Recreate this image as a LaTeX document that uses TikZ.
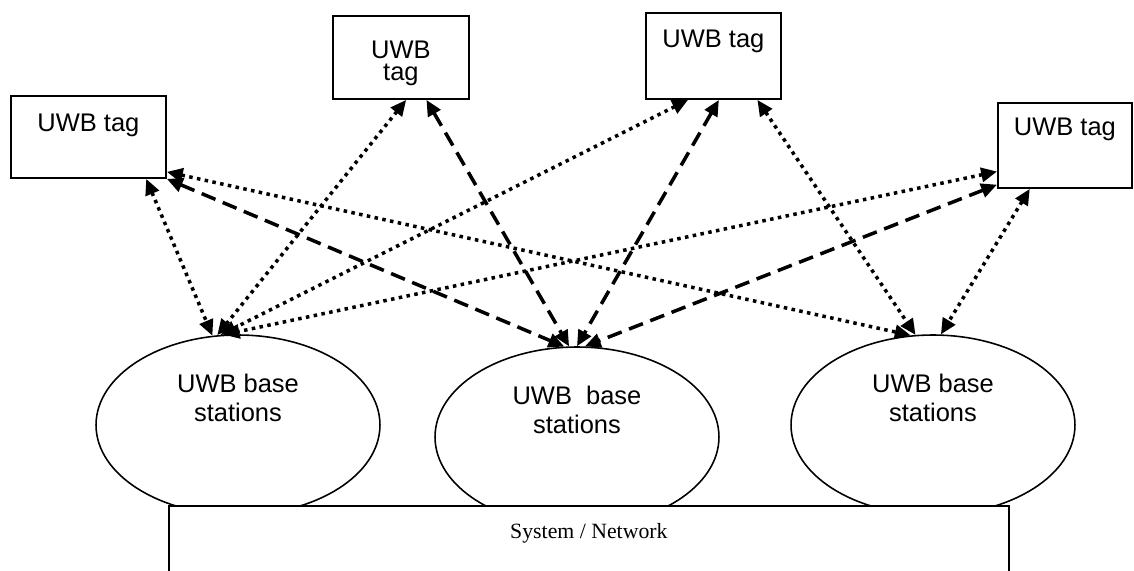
\documentclass[tikz,border=0pt]{standalone}
\usepackage{fontspec}
\setmainfont{Liberation Serif}
\newfontfamily\arialfont{Liberation Sans}
\usetikzlibrary{arrows.meta,shapes.geometric}
\tikzset{
    TG/.style ={rectangle, draw, line width=1.1pt, inner sep=0pt, anchor=north west, align=center, font=\arialfont\fontsize{14.5}{13}\selectfont},
    BS/.style ={ellipse, draw, line width=0.9pt, inner sep=0pt, minimum width=5.68cm, minimum height=3.6cm, align=center, text height=1cm, text depth=1.16cm, font=\arialfont\fontsize{14.5}{16}\selectfont},
    SN/.style ={rectangle, draw, fill=white, line width=1.1pt, inner sep=0pt, anchor=north west, minimum width=16.8cm, text height=0.66cm, text depth=2cm, font=\fontsize{12.4}{14}\selectfont},
    DT/.style ={<->, line width=2pt, dash pattern=on 2pt off 2.5pt},
    DS/.style ={<->, line width=2pt, dash pattern=on 8.5pt off 4.5pt},
    >={Triangle[length=9pt,width=8pt]}}
\begin{document}
\begin{tikzpicture}[x=0.02cm,y=-0.02cm]
        \useasboundingbox (0,0) rectangle (1134,571);
        \clip (0,0) rectangle (1134,571);
        % base stations
        \node[BS] (baseA) at (238,425) {UWB base\\stations};
        \node[BS] (baseB) at (577,437) {UWB~~base\\stations};
        \node[BS] (baseC) at (933,425) {UWB base\\stations};
        % tags
        \node[TG, minimum width=3.1cm, text height=0.72cm, text depth=0.92cm] (tagA) at (10,95) {UWB tag};
        \node[TG, minimum width=2.72cm, text height=1.3cm, text depth=0.36cm] (tagB) at (332,15) {UWB\\tag};
        \node[TG, minimum width=2.7cm, text height=0.7cm, text depth=1.02cm] (tagC) at (645,12) {UWB tag};
        \node[TG, minimum width=2.68cm, text height=0.66cm, text depth=1.04cm] (tagD) at (997,102) {UWB tag};
        % links
        \draw[DT] (tagA.-36) -- (baseA.106);
        \draw[DS] (tagA.south east) -- (baseB.98);
        \draw[DT] (tagA.-24) -- (baseC.104);
        \draw[DT] (tagB.-83) -- (baseA.103);
        \draw[DS] (tagB.-59) -- (baseB.95);
        \draw[DT] (tagC.-120) -- (baseA.101);
        \draw[DS] (tagC.-83) -- (baseB.90);
        \draw[DT] (tagC.-45) -- (baseC.101);
        \draw[DT] (tagD.201) -- (baseA.99);
        \draw[DS] (tagD.210) -- (baseB.85);
        \draw[DT] (tagD.231) -- (baseC.85);
        % system
        \node[SN] (sys) at (168,505) {System / Network};
\end{tikzpicture}
\end{document}
